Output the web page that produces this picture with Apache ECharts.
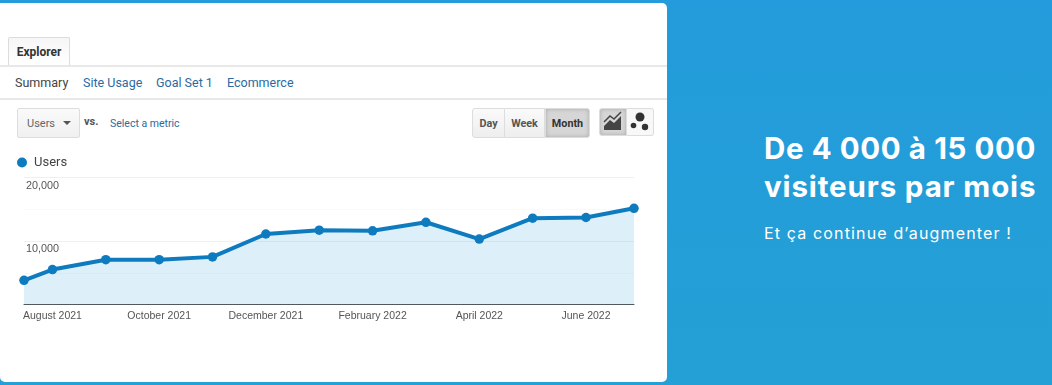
<!DOCTYPE html>
<html>
<head>
<meta charset="utf-8">
<title>Visiteurs par mois</title>
<script src="https://cdn.jsdelivr.net/npm/echarts@6/dist/echarts.min.js"></script>
<style>
  html, body { margin: 0; padding: 0; }
  body { width: 1052px; height: 385px; overflow: hidden; position: relative; background: linear-gradient(180deg, #249bdc, #23a0d5); font-family: Roboto, "Liberation Sans", Arial, sans-serif; }
  #panel { position: absolute; left: 0; top: 3px; width: 667px; height: 379px; background: #fff; border-radius: 0 5px 5px 5px; }
  #main { position: absolute; left: 0; top: 0; width: 667px; height: 385px; }
  .abs { position: absolute; white-space: nowrap; }
  .link { color: #2b6aa0; }
  .rule { position: absolute; left: 0; width: 667px; height: 2px; background: #e8e8e8; }
  .tab { left: 8px; top: 37px; width: 62px; height: 28px; border: 1px solid #dcdcdc; border-bottom: 0; border-radius: 2px 2px 0 0; background: linear-gradient(180deg, #f6f6f6, #fff); box-sizing: border-box; font-weight: bold; font-size: 12px; color: #333; text-align: center; line-height: 29px; }
  .btn { top: 108px; height: 30px; box-sizing: border-box; border: 1px solid #ddd; background: linear-gradient(180deg, #fafafa, #eee); font-size: 10.8px; font-weight: bold; color: #555; text-align: center; line-height: 29px; }
  .on { background: #d6d6d6; color: #333; box-shadow: inset 0 0 4px #aaa; }
  .hero { left: 764px; color: #fff; font-family: Inter, "Noto Sans", sans-serif; font-weight: 700; font-size: 29.5px; }
</style>
</head>
<body>
<div id="panel"></div>

<div class="abs tab">Explorer</div>
<div class="rule" style="top:65px"></div>
<div class="abs" style="left:15px;top:75px;font-size:12.5px;color:#444">Summary</div>
<div class="abs link" style="left:83px;top:75px;font-size:12.5px">Site Usage</div>
<div class="abs link" style="left:156px;top:75px;font-size:12.5px">Goal Set 1</div>
<div class="abs link" style="left:227px;top:75px;font-size:12.5px">Ecommerce</div>
<div class="rule" style="top:98px"></div>

<div class="abs" style="left:17px;top:108px;width:63px;height:30px;box-sizing:border-box;border:1px solid #ddd;border-radius:2px;background:linear-gradient(180deg,#fafafa,#f0f0f0);font-size:11px;color:#666;line-height:29px;padding-left:9px">Users<span style="position:absolute;left:45px;top:12px;border:4px solid transparent;border-top:4px solid #555"></span></div>
<div class="abs" style="left:84px;top:115px;font-size:11px;font-weight:bold;color:#555">vs.</div>
<div class="abs link" style="left:110px;top:117px;font-size:10.5px">Select a metric</div>

<div class="abs btn" style="left:472px;width:33px;border-radius:3px 0 0 3px">Day</div>
<div class="abs btn" style="left:505px;width:40px;border-left:0">Week</div>
<div class="abs btn on" style="left:545px;width:45px;border-radius:0 3px 3px 0">Month</div>
<div class="abs btn on" style="left:599px;width:28px;height:28px;border-radius:3px 0 0 3px">
  <svg width="26" height="26" style="display:block"><path d="M4 21 L4 17 L10 11 L14 14 L21 7 L21 21 Z" fill="#444"/><path d="M4 13 L10 7 L14 10 L21 3" stroke="#444" stroke-width="1.5" fill="none"/></svg>
</div>
<div class="abs btn" style="left:627px;width:27px;height:28px;border-left:0;border-radius:0 3px 3px 0;background:#f8f8f8">
  <svg width="26" height="26" style="display:block"><circle cx="13" cy="8" r="4.5" fill="#333"/><circle cx="6.5" cy="16.5" r="2.8" fill="#333"/><circle cx="18" cy="18" r="3.2" fill="#333"/></svg>
</div>

<div id="main"></div>

<div class="abs hero" style="top:130px;letter-spacing:0.6px">De 4 000 à 15 000</div>
<div class="abs hero" style="top:168px;letter-spacing:0.87px">visiteurs par mois</div>
<div class="abs" style="left:764px;top:223px;color:#fff;font-family:Inter,'Noto Sans',sans-serif;font-size:16px;letter-spacing:1.15px">Et ça continue d’augmenter !</div>

<script>
const dates = ["2021-07-15", "2021-08-01", "2021-09-01", "2021-10-01", "2021-11-01", "2021-12-01", "2022-01-01", "2022-02-01", "2022-03-01", "2022-04-01", "2022-05-01", "2022-06-01", "2022-06-28"];
const users = [3800, 5500, 7050, 7050, 7500, 11100, 11700, 11600, 12950, 10300, 13600, 13700, 15150];
const xLabelDates = ["2021-08-01", "2021-10-01", "2021-12-01", "2022-02-01", "2022-04-01", "2022-06-01"];
const xLabels = ["August 2021", "October 2021", "December 2021", "February 2022", "April 2022", "June 2022"];
const yLabels = { 10000: "10,000", 20000: "20,000" };
const seriesName = "Users";

// GA espace les mois de façon égale : position = nombre de mois depuis août 2021
const toMonth = (d) => {
  const [y, m, day] = d.split("-").map(Number);
  return (y - 2021) * 12 + (m - 8) + (day - 1) / 30;
};
const xLabelMonths = xLabelDates.map(toMonth);

const chart = echarts.init(document.getElementById("main"));

chart.setOption({
  backgroundColor: "transparent",
  animation: false,
  textStyle: { fontFamily: "Liberation Sans, Arial, sans-serif" },
  legend: {
    data: [{ name: seriesName, icon: "circle" }],
    left: 12,
    top: 151,
    itemWidth: 10,
    itemHeight: 10,
    textStyle: { fontSize: 13, color: "#444", fontFamily: "Roboto", padding: [0, 0, 0, 2] },
  },
  grid: { left: 24, right: 33, top: 177.5, height: 127 },
  xAxis: {
    type: "value",
    min: toMonth(dates[0]),
    max: toMonth(dates[dates.length - 1]),
    axisLine: { onZero: false, lineStyle: { color: "#555", width: 1 } },
    axisTick: { show: false },
    splitLine: { show: false },
    axisLabel: {
      customValues: xLabelMonths,
      hideOverlap: false,
      margin: 6,
      fontSize: 10.5,
      color: "#555",
      formatter: (v) => xLabels[xLabelMonths.indexOf(v)] || "",
    },
  },
  yAxis: {
    type: "value",
    min: 0,
    max: 20000,
    interval: 5000,
    axisLine: { show: false },
    axisTick: { show: false },
    splitLine: { lineStyle: { color: ["#f4f4f4", "#f9f9f9", "#f0f0f0", "#f9f9f9", "#f0f0f0"], width: 1 } },
    axisLabel: {
      inside: true,
      verticalAlign: "top",
      margin: 2,
      padding: [3, 0, 0, 0],
      fontSize: 10.8,
      color: "#555",
      formatter: (v) => yLabels[v] || "",
    },
  },
  series: [
    {
      name: seriesName,
      type: "line",
      data: dates.map((d, i) => [toMonth(d), users[i]]),
      symbol: "circle",
      symbolSize: 9.5,
      showSymbol: true,
      lineStyle: { color: "#0f7bbf", width: 4 },
      itemStyle: { color: "#0f7bbf" },
      areaStyle: { color: "rgba(30,150,205,0.15)", opacity: 1 },
    },
  ],
});
</script>
</body>
</html>
